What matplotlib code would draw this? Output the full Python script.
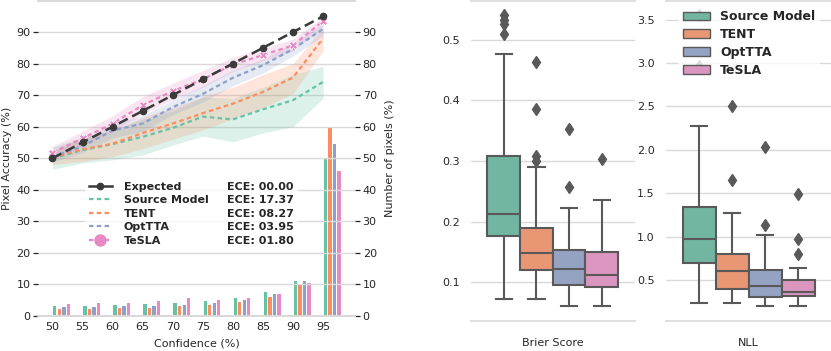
import colorsys
import numpy as np
import matplotlib
matplotlib.use("Agg")
import matplotlib.pyplot as plt
from matplotlib.lines import Line2D
from matplotlib.patches import Patch
import matplotlib.colors as mcolors

# ── Data ──────────────────────────────────────────────────────────────────
methods = ["Source Model", "TENT", "OptTTA", "TeSLA"]
ece_labels = ["ECE: 00.00", "ECE: 17.37", "ECE: 08.27", "ECE: 03.95", "ECE: 01.80"]

conf = np.array([50, 55, 60, 65, 70, 75, 80, 85, 90, 95])
expected_acc = [50, 55, 60, 65, 70, 75, 80, 85, 90, 95]

src_acc = [50.0, 52.6, 54.5, 56.8, 59.6, 63.2, 62.3, 65.5, 68.4, 74.2]
src_lo = [46.5, 48.5, 49.5, 51.0, 54.2, 57.0, 55.2, 58.0, 60.0, 69.0]
src_hi = [53.5, 56.8, 58.9, 62.4, 65.0, 69.4, 69.0, 72.5, 76.5, 79.2]

tent_acc = [50.3, 52.8, 54.6, 58.0, 61.0, 64.3, 67.3, 71.0, 75.6, 88.0]
tent_lo = [48.0, 49.0, 50.5, 53.0, 56.0, 59.0, 62.5, 66.0, 70.5, 84.0]
tent_hi = [52.5, 56.5, 58.5, 63.0, 66.0, 69.5, 72.5, 76.5, 80.0, 91.5]

opt_acc = [50.5, 53.8, 58.8, 61.0, 66.2, 70.4, 75.5, 79.5, 84.6, 91.0]
opt_lo = [48.8, 51.8, 56.5, 58.5, 63.8, 67.8, 73.0, 77.0, 82.5, 88.8]
opt_hi = [52.3, 55.8, 61.0, 63.5, 68.4, 73.0, 78.0, 81.5, 86.5, 92.8]

tesla_acc = [51.8, 56.3, 61.0, 66.8, 71.3, 75.0, 79.7, 82.7, 85.8, 93.5]
tesla_lo = [49.8, 54.0, 58.5, 64.0, 68.6, 72.5, 77.5, 80.8, 84.0, 92.0]
tesla_hi = [53.8, 58.6, 63.5, 69.5, 73.8, 77.8, 82.0, 84.8, 87.8, 94.8]

src_pix = [3.2, 3.3, 3.5, 3.7, 4.2, 4.8, 5.8, 7.5, 11.2, 50.0]
tent_pix = [2.2, 2.3, 2.5, 2.6, 3.2, 3.6, 4.4, 6.1, 10.3, 59.8]
opt_pix = [2.9, 2.9, 3.1, 3.3, 3.6, 4.2, 5.2, 6.9, 11.2, 54.5]
tesla_pix = [3.8, 4.0, 4.2, 4.8, 5.7, 5.1, 5.8, 7.1, 10.5, 46.0]

# box statistics: q1, median, q3, whisker low, whisker high, outliers
brier_q1 = [0.176, 0.120, 0.096, 0.093]
brier_med = [0.212, 0.149, 0.122, 0.113]
brier_q3 = [0.309, 0.189, 0.154, 0.150]
brier_wlo = [0.072, 0.072, 0.061, 0.062]
brier_whi = [0.476, 0.291, 0.222, 0.236]
brier_out = [[0.509, 0.525, 0.532, 0.540], [0.464, 0.385, 0.308, 0.300],
             [0.352, 0.258], [0.304]]

nll_q1 = [0.692, 0.393, 0.308, 0.320]
nll_med = [0.968, 0.604, 0.435, 0.362]
nll_q3 = [1.344, 0.795, 0.615, 0.500]
nll_wlo = [0.231, 0.239, 0.196, 0.205]
nll_whi = [2.280, 1.267, 1.018, 0.634]
nll_out = [[2.97, 3.55], [2.50, 1.647], [2.03, 1.133], [1.49, 0.968, 0.80]]

# ── Style ─────────────────────────────────────────────────────────────────
set2 = ["#66c2a5", "#fc8d62", "#8da0cb", "#e78ac3"]
text_c = "#262626"
grid_c = "#d9d9d9"
line_c = "#595959"


def desat(c, s=0.75):
    r, g, b = mcolors.to_rgb(c)
    h, l, sat = colorsys.rgb_to_hls(r, g, b)
    return colorsys.hls_to_rgb(h, l, sat * s)


plt.rcParams["font.family"] = ["DejaVu Sans"]
plt.rcParams["font.size"] = 8
plt.rcParams["text.color"] = text_c
plt.rcParams["axes.labelcolor"] = text_c
plt.rcParams["xtick.color"] = text_c
plt.rcParams["ytick.color"] = text_c

W, H = 831, 351
fig = plt.figure(figsize=(W / 100, H / 100), dpi=100)


def style_axes(a):
    a.spines["left"].set_visible(False)
    a.spines["right"].set_visible(False)
    a.spines["top"].set_color(grid_c)
    a.spines["bottom"].set_color(grid_c)
    a.spines["top"].set_linewidth(1.2)
    a.spines["bottom"].set_linewidth(1.2)


# ── Left: reliability + pixel histogram ───────────────────────────────────
ax = fig.add_axes([38 / W, 1 - 316 / H, 317 / W, 315.5 / H])
ax2 = ax.twinx()
ax.set_zorder(ax2.get_zorder() + 1)
ax.patch.set_visible(False)

for i, pix in enumerate([src_pix, tent_pix, opt_pix, tesla_pix]):
    ax2.bar(conf + 0.4 + 0.75 * i, pix, width=0.55, color=set2[i], zorder=2)

h_exp, = ax.plot(conf, expected_acc, color="#3a3a3a", lw=1.8, ls=(0, (4, 2)),
                 marker="o", ms=4.5, zorder=5)
bands = [(src_acc, src_lo, src_hi), (tent_acc, tent_lo, tent_hi),
         (opt_acc, opt_lo, opt_hi), (tesla_acc, tesla_lo, tesla_hi)]
for i, (m, lo, hi) in enumerate(bands):
    ax.fill_between(conf, lo, hi, color=set2[i], alpha=0.22, lw=0, zorder=2)
    kw = dict(marker="X", ms=6, mec="white", mew=0.5) if i == 3 else {}
    ax.plot(conf, m, color=set2[i], lw=1.6, ls=(0, (2, 1.5)), zorder=4, **kw)

for a in (ax, ax2):
    a.set_ylim(0, 100)
    a.set_yticks(range(0, 100, 10))
    style_axes(a)
    a.tick_params(axis="y", length=3.5, width=0.9, color=text_c, pad=2)
ax2.grid(False)
ax.grid(axis="y", color=grid_c, lw=1)
ax.set_axisbelow(True)
ax.set_xlim(47.6, 100.3)
ax.set_xticks(conf)
ax.tick_params(axis="x", length=0, pad=4)
ax.set_xlabel("Confidence (%)", labelpad=5)
ax.set_ylabel("Pixel Accuracy (%)", labelpad=3)
ax2.set_ylabel("Number of pixels (%)", labelpad=6)

leg_handles = [Line2D([], [], color="#3a3a3a", lw=1.8, marker="o", ms=4.5)]
for i in range(4):
    if i == 3:
        leg_handles.append(Line2D([], [], color=set2[i], lw=1.6, ls=(0, (2, 1.5)),
                                  marker="o", ms=8))
    else:
        leg_handles.append(Line2D([], [], color=set2[i], lw=1.6, ls=(0, (2, 1.5))))
blank = [Line2D([], [], ls="none") for _ in range(5)]
leg = ax.legend(leg_handles + blank, ["Expected"] + methods + ece_labels,
                ncol=2, loc="upper left", bbox_to_anchor=(0.148, 0.44),
                borderaxespad=0, prop=dict(weight="bold", size=8),
                frameon=True, framealpha=0.8, edgecolor="none",
                labelspacing=0.32, handlelength=2.0, handletextpad=1.1,
                columnspacing=-1.45, borderpad=0.4)

# ── Middle / right: box plots ─────────────────────────────────────────────
pos = [-0.3, -0.1, 0.1, 0.3]


def draw_box(a, q1, med, q3, wlo, whi, out, label):
    stats = []
    for k in range(4):
        stats.append(dict(q1=q1[k], med=med[k], q3=q3[k], whislo=wlo[k],
                          whishi=whi[k], fliers=out[k]))
    bp = a.bxp(stats, positions=pos, widths=0.2, patch_artist=True,
               boxprops=dict(edgecolor=line_c, lw=1.5),
               medianprops=dict(color=line_c, lw=1.5),
               whiskerprops=dict(color=line_c, lw=1.5),
               capprops=dict(color=line_c, lw=1.5),
               flierprops=dict(marker="d", mfc=line_c, mec=line_c, ms=6))
    for k, b in enumerate(bp["boxes"]):
        b.set_facecolor(desat(set2[k]))
    a.set_xlim(-0.5, 0.5)
    a.set_xticks([])
    a.set_xlabel(label, labelpad=12)
    style_axes(a)
    a.grid(axis="y", color=grid_c, lw=1)
    a.set_axisbelow(True)
    a.tick_params(axis="y", length=0, pad=8)


axb = fig.add_axes([471 / W, 1 - 321 / H, 163.5 / W, 320.5 / H])
draw_box(axb, brier_q1, brier_med, brier_q3, brier_wlo, brier_whi, brier_out,
         "Brier Score")
axb.set_ylim(0.0365, 0.5645)
axb.set_yticks([0.1, 0.2, 0.3, 0.4, 0.5])

axn = fig.add_axes([666 / W, 1 - 321 / H, 165 / W, 320.5 / H])
draw_box(axn, nll_q1, nll_med, nll_q3, nll_wlo, nll_whi, nll_out, "NLL")
axn.set_ylim(0.028, 3.72)
axn.set_yticks([0.5, 1.0, 1.5, 2.0, 2.5, 3.0, 3.5])

box_handles = [Patch(facecolor=desat(c), edgecolor=line_c, lw=1) for c in set2]
axn.legend(box_handles, methods, loc="upper left", bbox_to_anchor=(0.07, 0.985),
           borderaxespad=0, prop=dict(weight="bold", size=9), frameon=True,
           framealpha=0.8, edgecolor="none", labelspacing=0.38,
           handlelength=2.2, handletextpad=0.8, borderpad=0.4)

fig.savefig("out.png", dpi=100)
